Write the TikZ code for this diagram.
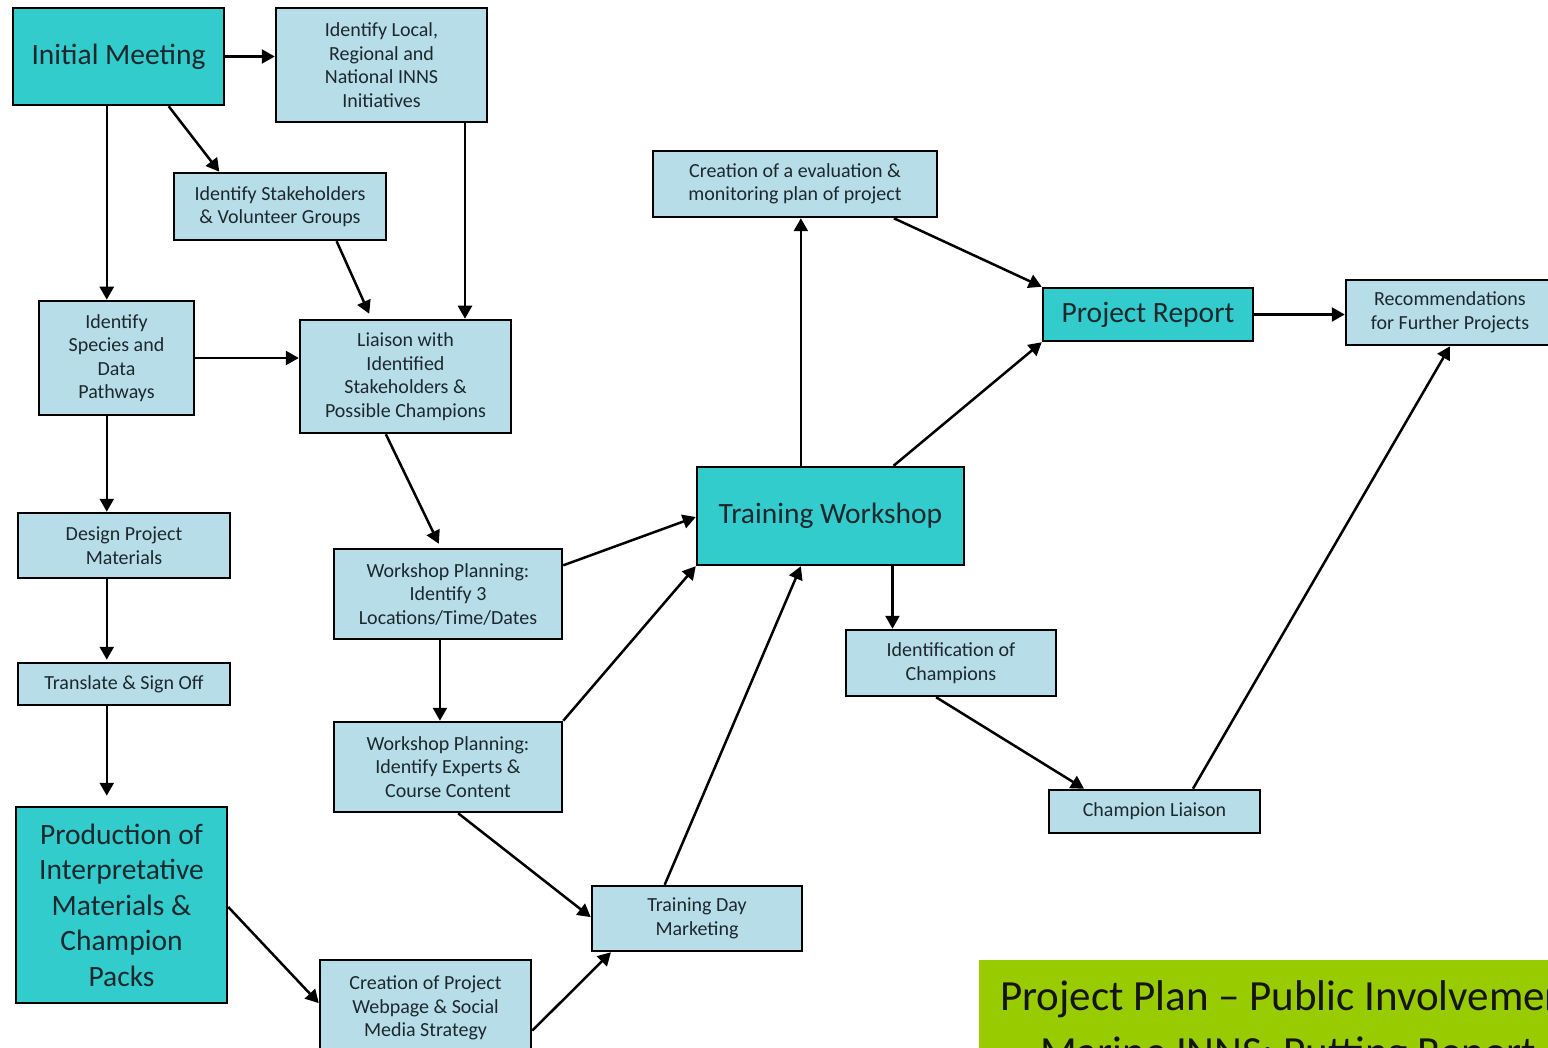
\documentclass[tikz,border=0pt]{standalone}
\usepackage{fontspec}
\setmainfont{Carlito}
\usetikzlibrary{arrows.meta,calc}
\definecolor{darkbox}{RGB}{51,204,204}
\definecolor{lightbox}{RGB}{183,222,232}
\definecolor{titlegreen}{RGB}{153,204,0}
\definecolor{ink}{RGB}{28,40,46}
\newcommand\bx[7]{\node[#6, minimum width={#4-#2}, minimum height={#5-#3}] (#1) at ({(#2+#4)/2},{(#3+#5)/2}) {#7};}
\begin{document}
\begin{tikzpicture}[x=1pt,y=-1pt,
 box/.style={draw=black, line width=2.5pt, fill=lightbox, align=center, inner sep=0pt, text=ink, font=\fontsize{20}{23.5}\selectfont},
 big/.style={box, fill=darkbox, font=\fontsize{29.5}{35.5}\selectfont},
 arr/.style={line width=2.5pt, -{Triangle[length=13pt,width=14pt]}},
 titletext/.style={anchor=base west, inner sep=0pt, text=black!92, font=\fontsize{43}{50}\selectfont}]
\useasboundingbox (0,0) rectangle (1548,1048);
\clip (0,0) rectangle (1548,1048);
\fill[white] (0,0) rectangle (1548,1048);

\bx{im}{13}{8}{224}{105}{big}{Initial Meeting}
\bx{il}{276}{8}{487}{122}{box}{Identify Local,\\Regional and\\National INNS\\Initiatives}
\bx{isv}{174}{173}{386}{240}{box}{Identify Stakeholders\\\& Volunteer Groups}
\bx{isp}{39}{301}{194}{415}{box}{Identify\\Species and\\Data\\Pathways}
\bx{lia}{300}{320}{511}{433}{box}{Liaison with\\Identified\\Stakeholders \&\\Possible Champions}
\bx{dpm}{18}{513}{230}{578}{box}{Design Project\\Materials}
\bx{tso}{18}{663}{230}{705}{box}{Translate \& Sign Off}
\bx{pim}{16}{807}{227}{1003}{big}{Production of\\Interpretative\\Materials \&\\Champion\\Packs}
\bx{wp1}{334}{549}{562}{639}{box}{Workshop Planning:\\Identify 3\\Locations/Time/Dates}
\bx{wp2}{334}{722}{562}{812}{box}{Workshop Planning:\\Identify Experts \&\\Course Content}
\bx{tdm}{592}{886}{802}{951}{box}{Training Day\\Marketing}
\bx{web}{320}{960}{531}{1056}{box}{Creation of Project\\Webpage \& Social\\Media Strategy}
\bx{tw}{697}{467}{964}{565}{big}{Training Workshop}
\bx{ev}{653}{151}{937}{217}{box}{Creation of a evaluation \&\\monitoring plan of project}
\bx{pr}{1043}{288}{1253}{341}{big}{Project Report}
\bx{rec}{1346}{280}{1554}{345}{box}{Recommendations\\for Further Projects}
\bx{idc}{846}{630}{1056}{696}{box}{Identification of\\Champions}
\bx{cl}{1049}{790}{1260}{833}{box}{Champion Liaison}

\node[fill=titlegreen, anchor=north west, minimum width=600pt, minimum height=120pt, inner sep=0pt] (tbg) at (979,960) {};
\node[titletext] (t1) at (1000,1010) {Project Plan – Public Involvement};
\node[titletext] (t2) at (1040,1066) {Marine INNS: Putting Report};

\draw[arr] (im.east) -- (il.west |- im.east);
\draw[arr] ($(im.south west)!.735!(im.south east)$) -- ($(isv.north west)!.217!(isv.north east)$);
\draw[arr] ($(im.south west)!.445!(im.south east)$) coordinate (a1) -- (a1 |- isp.north);
\draw[arr] ($(il.south west)!.891!(il.south east)$) coordinate (a2) -- (a2 |- lia.north);
\draw[arr] ($(isv.south west)!.764!(isv.south east)$) -- ([yshift=5pt]$(lia.north west)!.33!(lia.north east)$);
\draw[arr] (isp.east) -- (lia.west |- isp.east);
\draw[arr] (a1 |- isp.south) -- (a1 |- dpm.north);
\draw[arr] (a1 |- dpm.south) -- ([yshift=2pt]a1 |- tso.north);
\draw[arr] (a1 |- tso.south) -- ([yshift=10pt]a1 |- pim.north);
\draw[arr] ($(lia.south west)!.408!(lia.south east)$) -- ([yshift=4pt]$(wp1.north west)!.46!(wp1.north east)$);
\draw[arr] ($(wp1.south west)!.465!(wp1.south east)$) coordinate (a3) -- (a3 |- wp2.north);
\draw[arr] ($(wp1.north east)!.19!(wp1.south east)$) -- ($(tw.north west)!.51!(tw.south west)$);
\draw[arr] (wp2.north east) -- (tw.south west);
\draw[arr] ($(wp2.south west)!.544!(wp2.south east)$) -- ($(tdm.north west)!.48!(tdm.south west)$);
\draw[arr] ($(pim.north east)!.51!(pim.south east)$) -- ($(web.north west)!.45!(web.south west)$);
\draw[arr] ($(web.north east)!.73!(web.south east)$) -- ($(tdm.south west)!.095!(tdm.south east)$);
\draw[arr] ($(tdm.north west)!.348!(tdm.north east)$) -- ($(tw.south west)!.39!(tw.south east)$);
\draw[arr] ($(tw.north west)!.39!(tw.north east)$) coordinate (a4) -- (a4 |- ev.south);
\draw[arr] ($(ev.south west)!.845!(ev.south east)$) -- (pr.north west);
\draw[arr] ($(tw.north west)!.734!(tw.north east)$) -- (pr.south west);
\draw[arr] ($(tw.south west)!.73!(tw.south east)$) coordinate (a5) -- (a5 |- idc.north);
\draw[arr] ($(idc.south west)!.43!(idc.south east)$) -- ($(cl.north west)!.17!(cl.north east)$);
\draw[arr] ($(cl.north west)!.68!(cl.north east)$) -- ($(rec.south west)!.5!(rec.south east)$);
\draw[arr] (pr.east) -- (rec.west |- pr.east);
\end{tikzpicture}
\end{document}
